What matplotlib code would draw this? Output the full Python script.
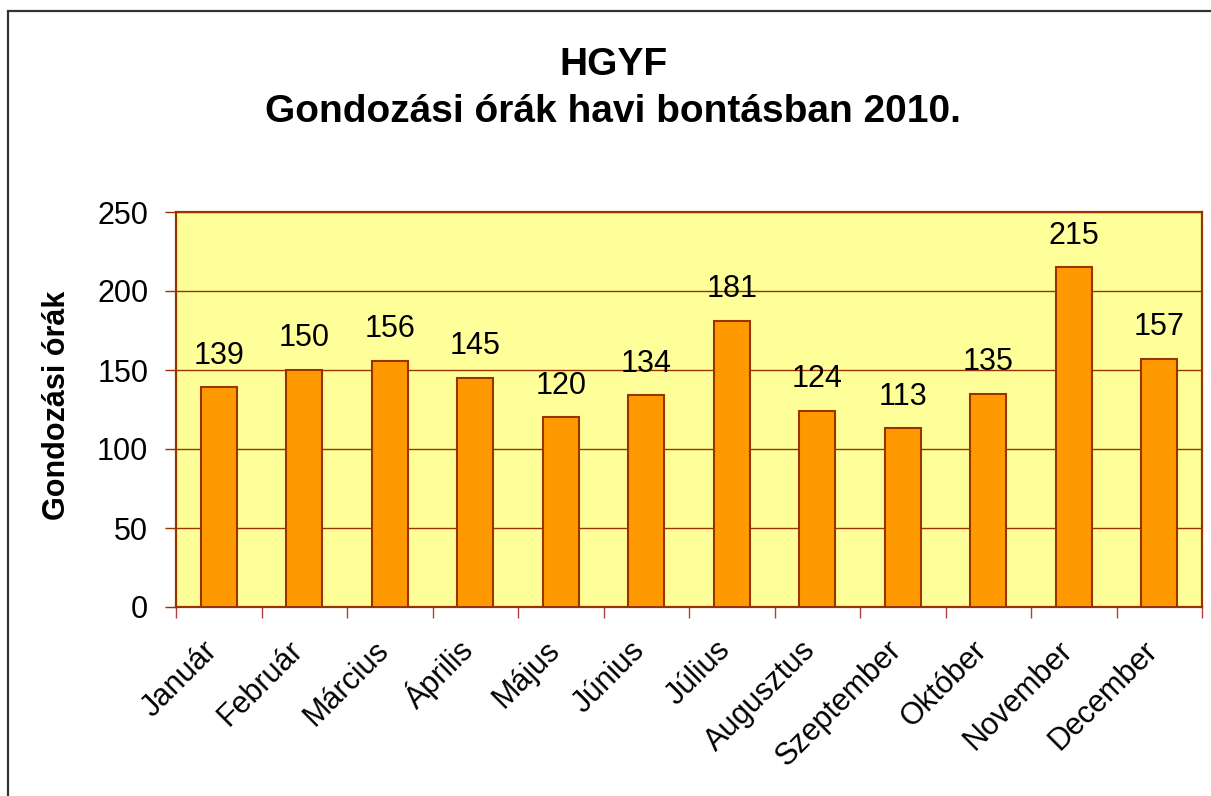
import matplotlib
matplotlib.use('Agg')
import matplotlib.pyplot as plt
from matplotlib.patches import Rectangle
import numpy as np

plt.rcParams['font.family'] = ['Liberation Sans', 'DejaVu Sans']

months = ['Január', 'Február', 'Március', 'Április', 'Május', 'Június',
          'Július', 'Augusztus', 'Szeptember', 'Október', 'November', 'December']
hours = [139, 150, 156, 145, 120, 134, 181, 124, 113, 135, 215, 157]

title1 = 'HGYF'
title2 = 'Gondozási órák havi bontásban 2010.'
ylabel = 'Gondozási órák'

W, H = 1211, 796
fig = plt.figure(figsize=(W / 100, H / 100), dpi=100)

# outer chart frame (cut off on right and bottom)
fig.patches.append(Rectangle((8 / W, -0.02), 1.05, 1 - 11 / H + 0.02,
                             transform=fig.transFigure, fill=False,
                             edgecolor='#333333', linewidth=1.6))

ax = fig.add_axes([176 / W, (H - 607) / H, 1026 / W, 395 / H])
ax.set_facecolor('#FFFF99')

x = np.arange(len(months))
ax.bar(x, hours, width=0.42, color='#FF9900', edgecolor='#993300',
       linewidth=1.5, zorder=3)

for xi, v in zip(x, hours):
    ax.annotate(str(v), (xi, v), xytext=(0, 12), textcoords='offset points',
                ha='center', va='bottom', fontsize=22)

ax.set_xlim(-0.5, len(months) - 0.5)
ax.set_ylim(0, 250)
ax.set_yticks(range(0, 251, 50))
ax.tick_params(axis='y', labelsize=22, length=8, width=1,
               color='#993300', direction='out', pad=12)
ax.yaxis.grid(True, color='#993300', linewidth=1, zorder=0)

ax.set_xticks(x)
ax.set_xticklabels(months, rotation=45, ha='right', va='baseline',
                   rotation_mode='anchor', fontsize=22)
ax.tick_params(axis='x', which='major', length=0, pad=32)
ax.set_xticks(np.arange(-0.5, len(months), 1), minor=True)
ax.tick_params(axis='x', which='minor', length=8, width=1,
               color='#B04040', direction='out')

for s in ax.spines.values():
    s.set_color('#993300')
    s.set_linewidth(1.6)

fig.text(57 / W, 1 - 405 / H, ylabel, rotation=90, ha='center', va='center',
         fontsize=22, fontweight='bold')
fig.text(613 / W, 1 - 75 / H, title1, ha='center', va='baseline',
         fontsize=28, fontweight='bold')
fig.text(613 / W, 1 - 122 / H, title2, ha='center', va='baseline',
         fontsize=28, fontweight='bold')

fig.savefig('out.png', dpi=100)
